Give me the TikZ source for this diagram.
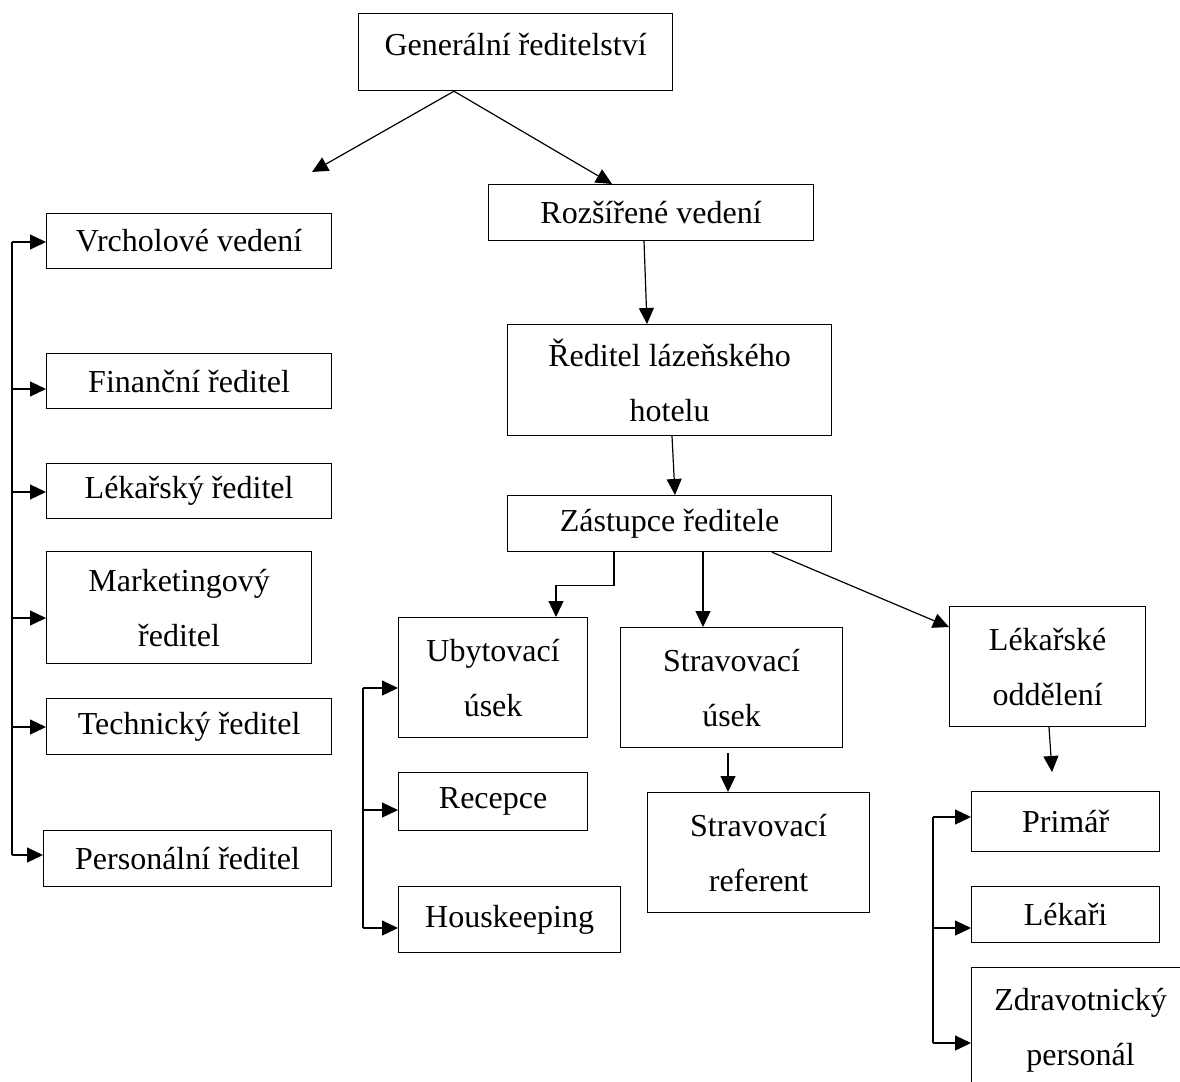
\documentclass[tikz,border=0pt]{standalone}
\usepackage{fontspec}
\setmainfont{Liberation Serif}
\usetikzlibrary{arrows.meta,calc}

\begin{document}
\begin{tikzpicture}[x=1pt, y=-1pt,
    box/.style={draw, line width=1.2pt, anchor=north west, inner sep=0pt, align=center,
        font=\fontsize{32}{55}\selectfont},
    arr/.style={line width=1.2pt, -{Triangle[length=16pt,width=15pt]}}]
    \clip (0,0) rectangle (1180,1081);

    % Top
    \node[box, minimum width=314pt, minimum height=77pt, text depth=15pt] (gen) at (358,13) {Generální ředitelství};
    \node[box, minimum width=325pt, minimum height=56pt] (rozs) at (488,184) {Rozšířené vedení};
    \node[box, minimum width=324pt, minimum height=111pt] (red) at (507,324) {Ředitel lázeňského\\hotelu};
    \node[box, minimum width=324pt, minimum height=56pt] (zast) at (507,495) {Zástupce ředitele};

    % Left column
    \node[box, minimum width=285pt, minimum height=55pt] (vrch) at (46,213) {Vrcholové vedení};
    \node[box, minimum width=285pt, minimum height=55pt] (fin) at (46,353) {Finanční ředitel};
    \node[box, minimum width=285pt, minimum height=55pt] (lekr) at (46,463) {Lékařský ředitel};
    \node[box, minimum width=265pt, minimum height=112pt] (mark) at (46,551) {Marketingový\\ředitel};
    \node[box, minimum width=285pt, minimum height=56pt] (tech) at (46,698) {Technický ředitel};
    \node[box, minimum width=288pt, minimum height=56pt] (pers) at (43,830) {Personální ředitel};

    % Sections
    \node[box, minimum width=189pt, minimum height=120pt] (uby) at (398,617) {Ubytovací\\úsek};
    \node[box, minimum width=189pt, minimum height=58pt] (rec) at (398,772) {Recepce};
    \node[box, minimum width=222pt, minimum height=66pt] (hous) at (398,886) {Houskeeping};
    \node[box, minimum width=222pt, minimum height=120pt] (stu) at (620,627) {Stravovací\\úsek};
    \node[box, minimum width=222pt, minimum height=120pt] (ref) at (647,792) {Stravovací\\referent};
    \node[box, minimum width=196pt, minimum height=120pt] (lek) at (949,606) {Lékařské\\oddělení};
    \node[box, minimum width=188pt, minimum height=60pt] (prim) at (971,791) {Primář};
    \node[box, minimum width=188pt, minimum height=56pt] (lekari) at (971,886) {Lékaři};
    \node[box, minimum width=218pt, minimum height=125pt] (zdrav) at (971,967) {Zdravotnický\\personál};

    % Main line
    \coordinate (gapex) at ($(gen.south west)+(96,0)$);
    \coordinate (gfree) at (312,172);
    \draw[arr] (gapex) -- (gfree);
    \draw[arr] (gapex) -- ($(rozs.north west)+(124,0)$);
    \draw[arr] ($(rozs.south west)+(156,0)$) -- ($(red.north west)+(140,0)$);
    \draw[arr] ($(red.south west)+(165,0)$) -- ($(zast.north west)+(168,0)$);
    \draw[arr] ($(zast.south west)+(107,0)$) -- ++(0,33) -| ($(uby.north west)+(158,0)$);
    \draw[arr] ($(zast.south west)+(196,0)$) -- ($(stu.north west)+(83,0)$);
    \draw[arr] ($(zast.south west)+(265,0)$) -- ($(lek.north west)+(0,21)$);
    \draw[arr] ($(stu.south west)+(108,5)$) -- ($(ref.north west)+(81,0)$);
    \coordinate (lfree) at (1052,772);
    \draw[arr] ($(lek.south west)+(100,0)$) -- (lfree);

    % Brackets
    \coordinate (lbus) at (12,0);
    \foreach \n/\dy in {vrch/29, fin/36, lekr/29, mark/67, tech/29, pers/25}{
        \coordinate (v\n) at ($(\n.north west)+(0,\dy)$);
        \draw[arr] (lbus |- v\n) -- (v\n);
    }
    \draw[line width=1.2pt] (lbus |- vvrch) -- (lbus |- vpers);

    \coordinate (ubus) at (363,0);
    \foreach \n/\dy in {uby/71, rec/38, hous/42}{
        \coordinate (v\n) at ($(\n.north west)+(0,\dy)$);
        \draw[arr] (ubus |- v\n) -- (v\n);
    }
    \draw[line width=1.2pt] (ubus |- vuby) -- (ubus |- vhous);

    \coordinate (rbus) at (933,0);
    \foreach \n/\dy in {prim/26, lekari/42, zdrav/76}{
        \coordinate (v\n) at ($(\n.north west)+(0,\dy)$);
        \draw[arr] (rbus |- v\n) -- (v\n);
    }
    \draw[line width=1.2pt] (rbus |- vprim) -- (rbus |- vzdrav);
\end{tikzpicture}
\end{document}
